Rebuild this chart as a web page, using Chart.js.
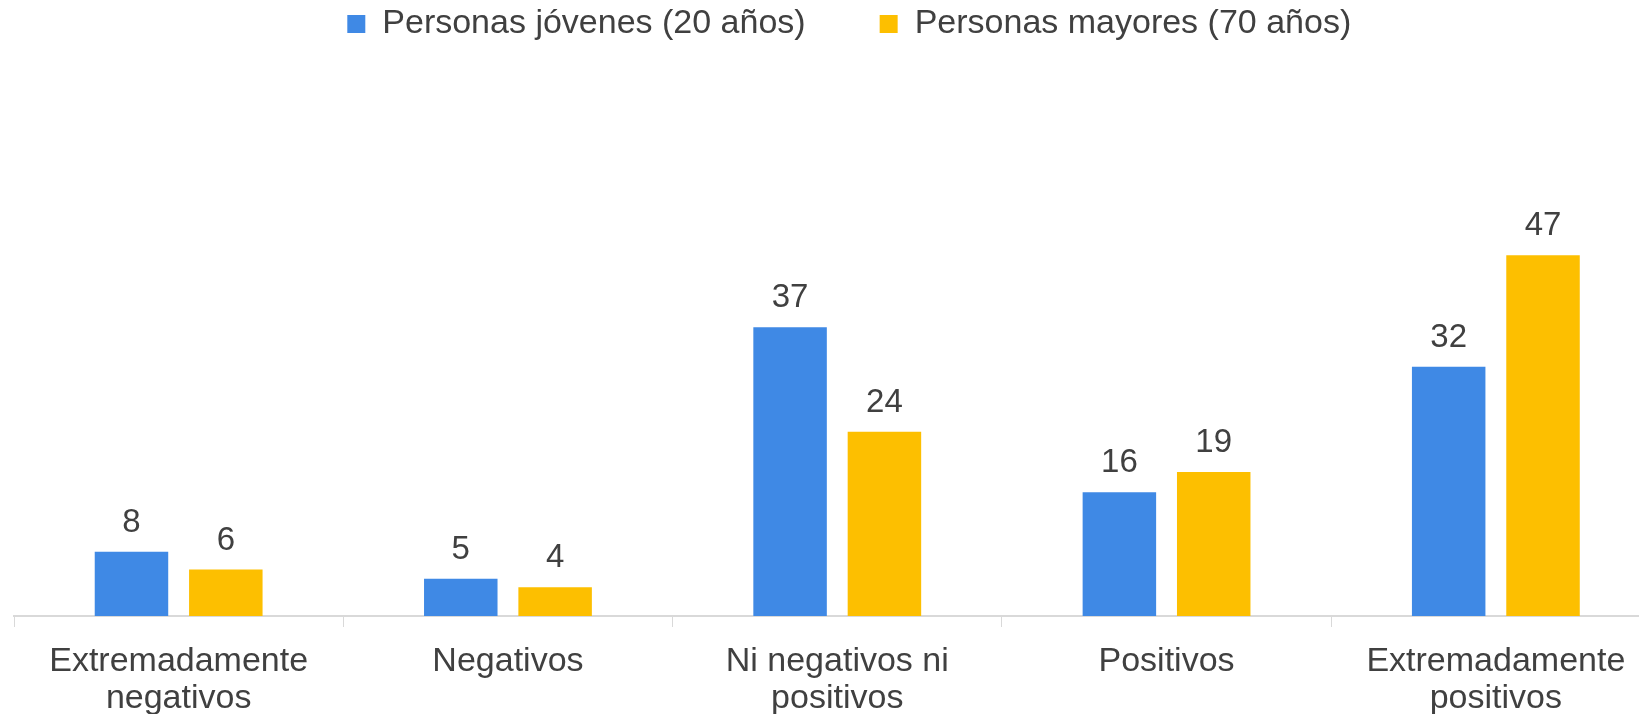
<!DOCTYPE html>
<html>
<head>
<meta charset="utf-8">
<script src="https://cdn.jsdelivr.net/npm/chart.js@4.4.1/dist/chart.umd.min.js"></script>
<style>
  html, body { margin: 0; padding: 0; background: #ffffff; overflow: hidden; }
  canvas { display: block; }
</style>
</head>
<body>
<canvas id="c" width="1700" height="714" style="width:1700px;height:714px"></canvas>
<script>
const categories = [
  ['Extremadamente', 'negativos'],
  'Negativos',
  ['Ni negativos ni', 'positivos'],
  'Positivos',
  ['Extremadamente', 'positivos']
];
const seriesNames = ['Personas jóvenes (20 años)', 'Personas mayores (70 años)'];
const jovenes = [8.3, 4.8, 37.3, 16.0, 32.2];
const mayores = [6.0, 3.7, 23.8, 18.6, 46.6];

const FONT = '"Liberation Sans", Arial, sans-serif';
const TEXT = '#404040';

const valueLabels = {
  id: 'valueLabels',
  afterDatasetsDraw(chart) {
    const ctx = chart.ctx;
    ctx.save();
    ctx.font = '33px ' + FONT;
    ctx.fillStyle = TEXT;
    ctx.textAlign = 'center';
    ctx.textBaseline = 'alphabetic';
    chart.data.datasets.forEach((ds, di) => {
      const meta = chart.getDatasetMeta(di);
      meta.data.forEach((bar, i) => {
        ctx.fillText(String(Math.round(ds.data[i])), bar.x, bar.y - 20);
      });
    });
    ctx.restore();
  }
};

new Chart(document.getElementById('c'), {
  type: 'bar',
  data: {
    labels: categories,
    datasets: [
      { label: seriesNames[0], data: jovenes, backgroundColor: '#3F89E5', borderWidth: 0 },
      { label: seriesNames[1], data: mayores, backgroundColor: '#FDBF00', borderWidth: 0 }
    ]
  },
  options: {
    responsive: false,
    animation: false,
    devicePixelRatio: 1,
    layout: { padding: { left: 14, right: 15.5, top: -67, bottom: 0 } },
    datasets: { bar: { categoryPercentage: 0.573, barPercentage: 0.779 } },
    plugins: {
      tooltip: { enabled: false },
      legend: {
        position: 'top',
        align: 'center',
        labels: {
          boxWidth: 18,
          boxHeight: 18,
          padding: 74,
          color: TEXT,
          font: { family: FONT, size: 34 }
        }
      }
    },
    scales: {
      x: {
        offset: true,
        grid: {
          display: true,
          offset: true,
          drawOnChartArea: false,
          drawTicks: true,
          tickLength: 11,
          color: '#d9d9d9',
          lineWidth: 1
        },
        border: { display: true, color: '#d9d9d9', width: 2 },
        ticks: {
          color: TEXT,
          padding: 16,
          maxRotation: 0,
          autoSkip: false,
          font: { family: FONT, size: 34, lineHeight: 1.1 }
        },
        afterFit: (s) => { s.height = 98; }
      },
      y: {
        position: 'right',
        min: 0,
        max: 73,
        display: true,
        grid: { display: false },
        border: { display: false },
        ticks: { display: false },
        afterFit: (s) => { s.width = 24; }
      }
    }
  },
  plugins: [valueLabels]
});
</script>
</body>
</html>
